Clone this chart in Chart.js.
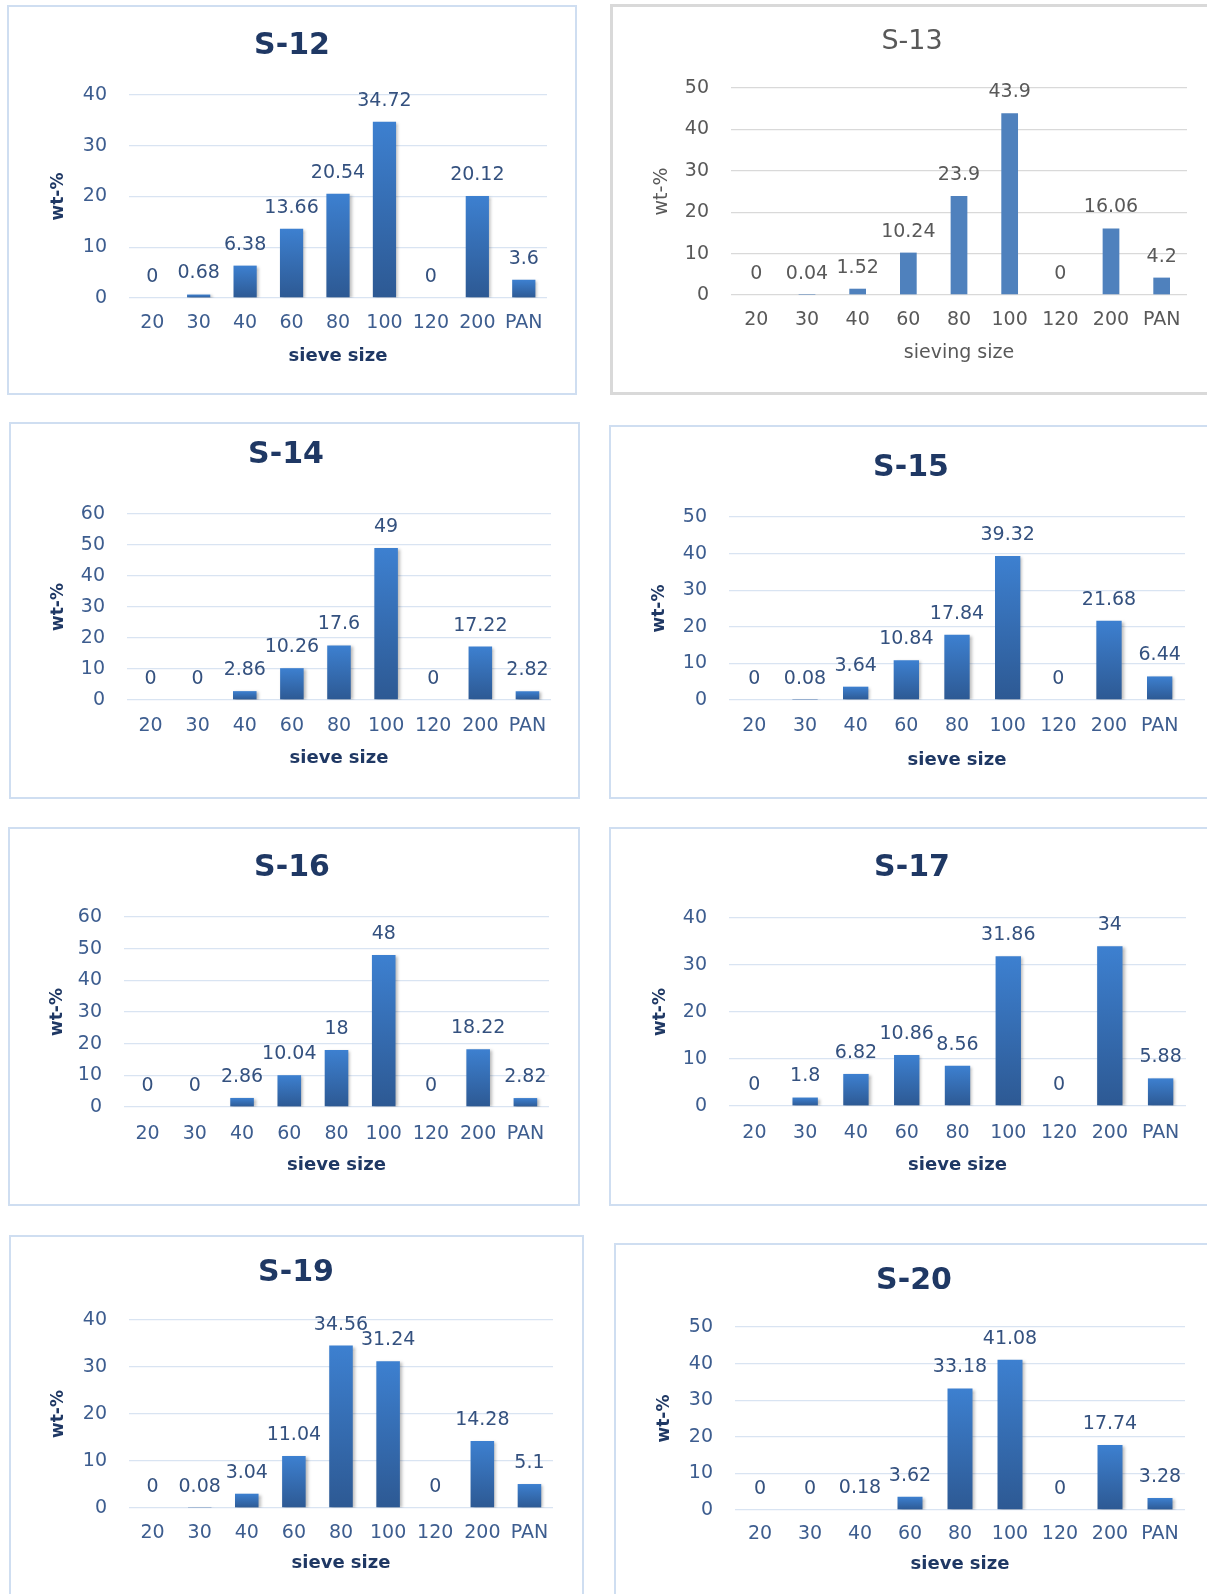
<!DOCTYPE html>
<html>
<head>
<meta charset="utf-8">
<script src="https://cdn.jsdelivr.net/npm/chart.js@4/dist/chart.umd.min.js"></script>
<style>
  html, body { margin: 0; padding: 0; background: #fff; overflow: hidden; }
  body { width: 1207px; height: 1594px; position: relative; }
  .frame { position: absolute; box-sizing: border-box; }
  canvas { position: absolute; }
</style>
</head>
<body>
<script>
// sieve sizes on the x axis
const sieveSizes = ["20", "30", "40", "60", "80", "100", "120", "200", "PAN"];

// wt-% per sample
const s12 = [0, 0.68, 6.38, 13.66, 20.54, 34.72, 0, 20.12, 3.6];
const s13 = [0, 0.04, 1.52, 10.24, 23.9, 43.9, 0, 16.06, 4.2];
const s14 = [0, 0, 2.86, 10.26, 17.6, 49, 0, 17.22, 2.82];
const s15 = [0, 0.08, 3.64, 10.84, 17.84, 39.32, 0, 21.68, 6.44];
const s16 = [0, 0, 2.86, 10.04, 18, 48, 0, 18.22, 2.82];
const s17 = [0, 1.8, 6.82, 10.86, 8.56, 31.86, 0, 34, 5.88];
const s19 = [0, 0.08, 3.04, 11.04, 34.56, 31.24, 0, 14.28, 5.1];
const s20 = [0, 0, 0.18, 3.62, 33.18, 41.08, 0, 17.74, 3.28];

// y axis tops
const yMax = { "S-12": 40, "S-13": 50, "S-14": 60, "S-15": 50, "S-16": 60, "S-17": 40, "S-19": 40, "S-20": 50 };

const themes = {
  blue: {
    titleSize: 30, titleWeight: "bold", titleColor: "#1f3864",
    tickColor: "#3d5d8f", labelColor: "#34517f",
    axisColor: "#1f3864", axisWeight: "bold", xTitleSize: 18, yTitleSize: 17,
    tickSize: 19, grid: "#d9e4f2", border: "2px solid #cfdef1", barPct: 0.5,
    xTitle: "sieve size",
  },
  gray: {
    titleSize: 27, titleWeight: "normal", titleColor: "#595959",
    tickColor: "#595959", labelColor: "#595959",
    axisColor: "#595959", axisWeight: "normal", xTitleSize: 19, yTitleSize: 19,
    tickSize: 19, grid: "#d9d9d9", border: "3px solid #d9d9d9", barPct: 0.33,
    xTitle: "sieving size",
  },
};

// panel placement: frame [x,y,w,h], plot [left,top,right,bottom], title centre, label rows
const panels = [
  { name: "S-12", values: s12, theme: "blue", frame: [7, 5, 570, 390], plot: [129, 95, 547, 298], title: [292, 46], xl: 323, xt: 356, yt: 59 },
  { name: "S-13", values: s13, theme: "gray", frame: [610, 4, 597, 391], plot: [731, 88, 1187, 295], title: [912, 42], xl: 320, xt: 353, yt: 662 },
  { name: "S-14", values: s14, theme: "blue", frame: [9, 422, 571, 377], plot: [127, 514, 551, 700], title: [286, 455], xl: 726, xt: 758, yt: 59 },
  { name: "S-15", values: s15, theme: "blue", frame: [609, 425, 598, 374], plot: [729, 517, 1185, 700], title: [911, 468], xl: 726, xt: 760, yt: 660 },
  { name: "S-16", values: s16, theme: "blue", frame: [8, 827, 572, 379], plot: [124, 917, 549, 1107], title: [292, 868], xl: 1134, xt: 1165, yt: 58 },
  { name: "S-17", values: s17, theme: "blue", frame: [609, 827, 598, 379], plot: [729, 918, 1186, 1106], title: [912, 868], xl: 1133, xt: 1165, yt: 661 },
  { name: "S-19", values: s19, theme: "blue", frame: [9, 1235, 575, 362], plot: [129, 1320, 553, 1508], title: [296, 1273], xl: 1533, xt: 1563, yt: 59 },
  { name: "S-20", values: s20, theme: "blue", frame: [614, 1243, 593, 354], plot: [735, 1327, 1185, 1510], title: [914, 1281], xl: 1534, xt: 1564, yt: 665 },
];

const FONT = "'DejaVu Sans', sans-serif";

// value labels above bars, plus a soft shadow on the bars
const barExtras = {
  id: "barExtras",
  beforeDatasetsDraw(chart, args, opts) {
    const ctx = chart.ctx;
    ctx.save();
    if (opts.shadow) {
      ctx.shadowColor = "rgba(0,0,0,0.28)";
      ctx.shadowOffsetX = 2;
      ctx.shadowOffsetY = 1;
      ctx.shadowBlur = 3;
    }
  },
  afterDatasetsDraw(chart, args, opts) {
    const ctx = chart.ctx;
    ctx.restore();
    const values = chart.data.datasets[0].data;
    ctx.save();
    ctx.font = opts.size + "px " + FONT;
    ctx.fillStyle = opts.color;
    ctx.textAlign = "center";
    ctx.textBaseline = "middle";
    chart.getDatasetMeta(0).data.forEach((bar, i) => {
      ctx.fillText(String(values[i]), bar.x, bar.y - 21);
    });
    ctx.restore();
  },
};

function barFill(ctxt, flat) {
  if (flat) return "#4f81bd";
  const chart = ctxt.chart;
  if (!chart.chartArea) return "#3a78c6";
  const y = chart.scales.y;
  const top = y.getPixelForValue(ctxt.raw || 0);
  const bot = y.getPixelForValue(0);
  if (bot - top < 2) return "#2f5e9c";
  const g = chart.ctx.createLinearGradient(0, top, 0, bot);
  g.addColorStop(0, "#3d80d0");
  g.addColorStop(1, "#2d5993");
  return g;
}

panels.forEach((p) => {
  const th = themes[p.theme];
  const [fx, fy, fw, fh] = p.frame;
  const [L, T, R, B] = p.plot;
  const rightCol = fx > 600;

  // right column frames run past the page edge, so no right border shows
  const box = document.createElement("div");
  box.className = "frame";
  Object.assign(box.style, {
    left: fx + "px", top: fy + "px",
    width: (rightCol ? fw + 12 : fw) + "px", height: fh + "px",
    border: th.border,
  });
  document.body.appendChild(box);

  const cv = document.createElement("canvas");
  cv.width = fw; cv.height = fh;
  Object.assign(cv.style, { left: fx + "px", top: fy + "px", width: fw + "px", height: fh + "px" });
  document.body.appendChild(cv);

  const padR = Math.max(fx + fw - R, 0);
  const padL = Math.max(Math.min(2 * (p.title[0] - fx) - fw + padR, L - fx - 60), 0);
  const tLH = th.titleSize * 1.2;
  const tTop = p.title[1] - fy - tLH / 2;
  const tBot = (T - fy) - tTop - tLH;
  const tickLH = th.tickSize * 1.2;
  const xTitleLH = th.xTitleSize * 1.2;
  const yTitleLH = th.yTitleSize * 1.2;

  new Chart(cv, {
    type: "bar",
    data: {
      labels: sieveSizes,
      datasets: [{
        data: p.values,
        backgroundColor: (c) => barFill(c, p.theme === "gray"),
        borderWidth: 0,
        barPercentage: th.barPct,
        categoryPercentage: 1,
      }],
    },
    options: {
      responsive: false,
      animation: false,
      devicePixelRatio: 1,
      layout: { padding: { left: padL, right: padR, top: 0, bottom: 0 } },
      plugins: {
        legend: { display: false },
        tooltip: { enabled: false },
        title: {
          display: true,
          text: p.name,
          color: th.titleColor,
          font: { family: FONT, size: th.titleSize, weight: th.titleWeight, lineHeight: 1.2 },
          padding: { top: tTop, bottom: tBot },
        },
        barExtras: { size: th.tickSize, color: th.labelColor, shadow: p.theme !== "gray" },
      },
      scales: {
        x: {
          grid: { display: false, drawTicks: false },
          border: { display: false },
          ticks: {
            color: th.tickColor,
            font: { family: FONT, size: th.tickSize, lineHeight: 1.2 },
            padding: p.xl - B - tickLH / 2,
            maxRotation: 0,
            autoSkip: false,
          },
          title: {
            display: true,
            text: th.xTitle,
            color: th.axisColor,
            font: { family: FONT, size: th.xTitleSize, weight: th.axisWeight, lineHeight: 1.2 },
            padding: { top: 0, bottom: (fy + fh) - p.xt - xTitleLH / 2 },
          },
          afterFit: (s) => { s.height = fy + fh - B; },
        },
        y: {
          min: 0,
          max: yMax[p.name],
          grid: { color: th.grid, lineWidth: 1.3, drawTicks: false },
          border: { display: false },
          ticks: {
            stepSize: 10,
            color: th.tickColor,
            font: { family: FONT, size: th.tickSize, lineHeight: 1.2 },
            padding: 22,
          },
          title: {
            display: true,
            text: "wt-%",
            color: th.axisColor,
            font: { family: FONT, size: th.yTitleSize, weight: th.axisWeight, lineHeight: 1.2 },
            padding: { top: Math.max(p.yt - fx - padL - yTitleLH / 2, 0), bottom: 0 },
          },
          afterFit: (s) => { s.width = L - fx - padL; },
        },
      },
    },
    plugins: [barExtras],
  });
});
</script>
</body>
</html>
